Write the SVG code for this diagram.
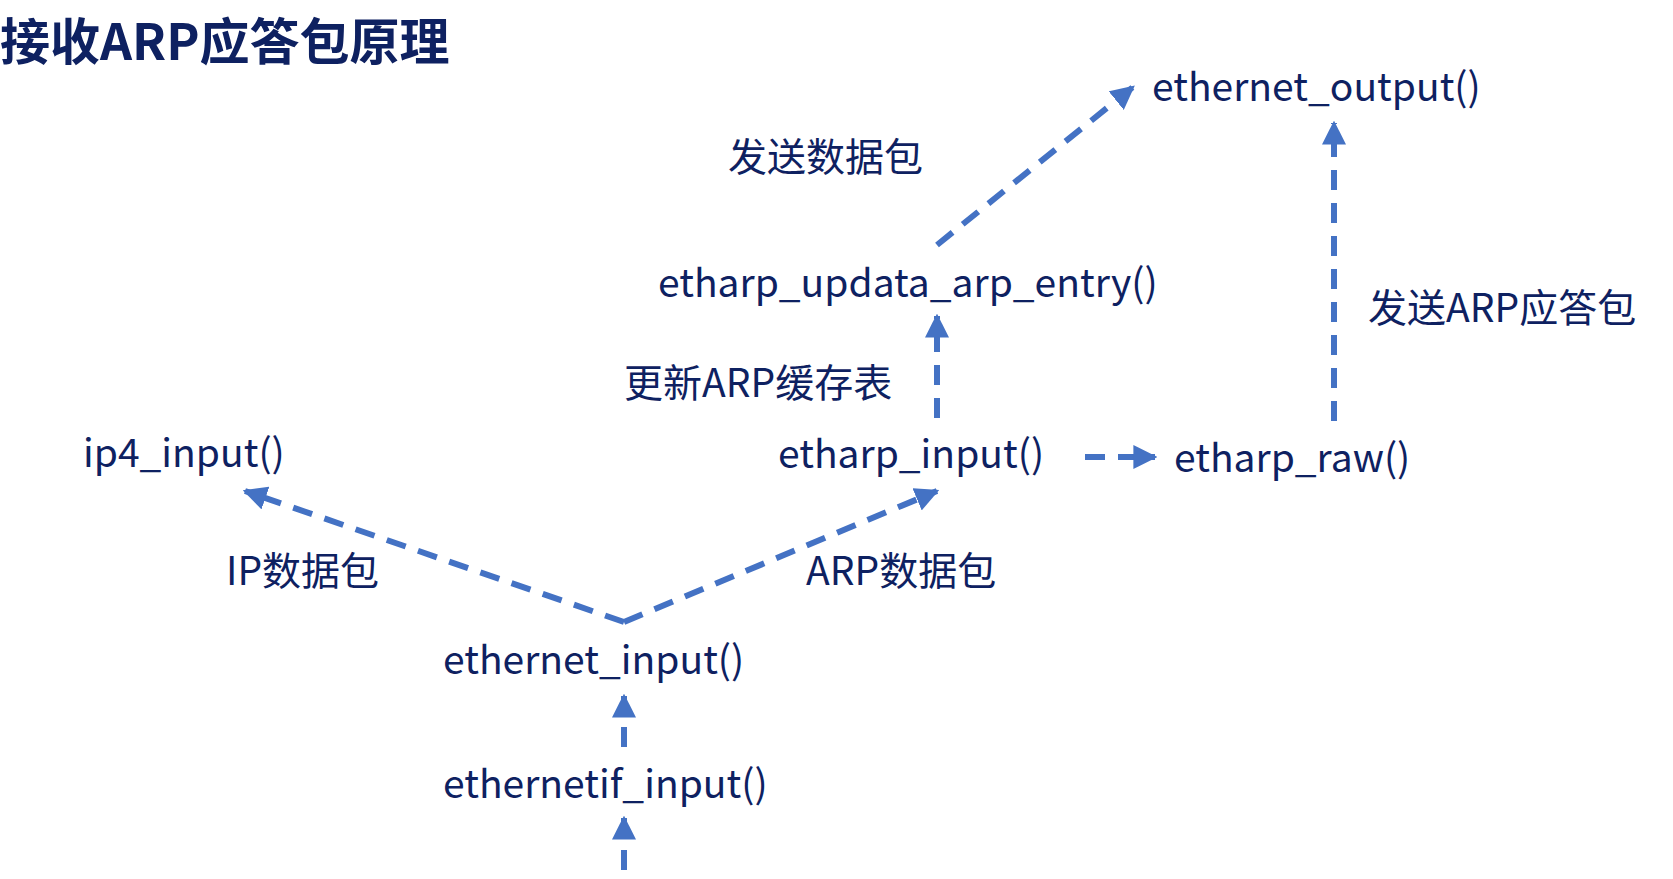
<svg xmlns="http://www.w3.org/2000/svg" width="1673" height="879" viewBox="0 0 1673 879">
<style>
.t{font-family:"Noto Sans CJK SC","Noto Sans",sans-serif;font-size:39px;fill:#0e2161}
.h{font-family:"Noto Sans CJK SC","Noto Sans",sans-serif;font-size:50px;font-weight:bold;fill:#0e2161}
.c{stroke:#4472c4;stroke-width:6;stroke-dasharray:20 13;fill:none;marker-end:url(#a)}
</style>
<defs><marker id="a" viewBox="0 0 10 10" refX="9" refY="5" markerWidth="4" markerHeight="4" orient="auto" markerUnits="strokeWidth"><path d="M0,0L10,5L0,10z" fill="#4472c4"/></marker></defs>
<rect width="1673" height="879" fill="#fff"/>
<text class="h" x="0" y="60">接收ARP应答包原理</text>
<g id="connectors">
<path class="c" d="M624,622L245,491"/>
<path class="c" d="M624,622L937,491"/>
<path class="c" d="M624,747L624,696"/>
<path class="c" d="M624,870L624,818"/>
<path class="c" d="M937,418L937,316"/>
<path class="c" d="M937,245L1133,87"/>
<path class="c" d="M1085,457L1155,457"/>
<path class="c" d="M1334,421L1334,123"/>
</g>
<g id="n_ethernet_output"><text class="t" x="1152" y="101">ethernet_output()</text></g>
<g id="l_send"><text class="t" x="728" y="171">发送数据包</text></g>
<g id="n_update"><text class="t" x="658" y="297">etharp_updata_arp_entry()</text></g>
<g id="l_update"><text class="t" x="624" y="397">更新ARP缓存表</text></g>
<g id="n_ip4"><text class="t" x="83" y="467">ip4_input()</text></g>
<g id="n_etharp_input"><text class="t" x="778" y="468">etharp_input()</text></g>
<g id="n_raw"><text class="t" x="1174" y="472">etharp_raw()</text></g>
<g id="l_reply"><text class="t" x="1368" y="322">发送ARP应答包</text></g>
<g id="l_ip"><text class="t" x="226" y="585">IP数据包</text></g>
<g id="l_arp"><text class="t" x="806" y="585">ARP数据包</text></g>
<g id="n_ethernet_input"><text class="t" x="443" y="674">ethernet_input()</text></g>
<g id="n_ethernetif_input"><text class="t" x="443" y="798">ethernetif_input()</text></g>
</svg>
